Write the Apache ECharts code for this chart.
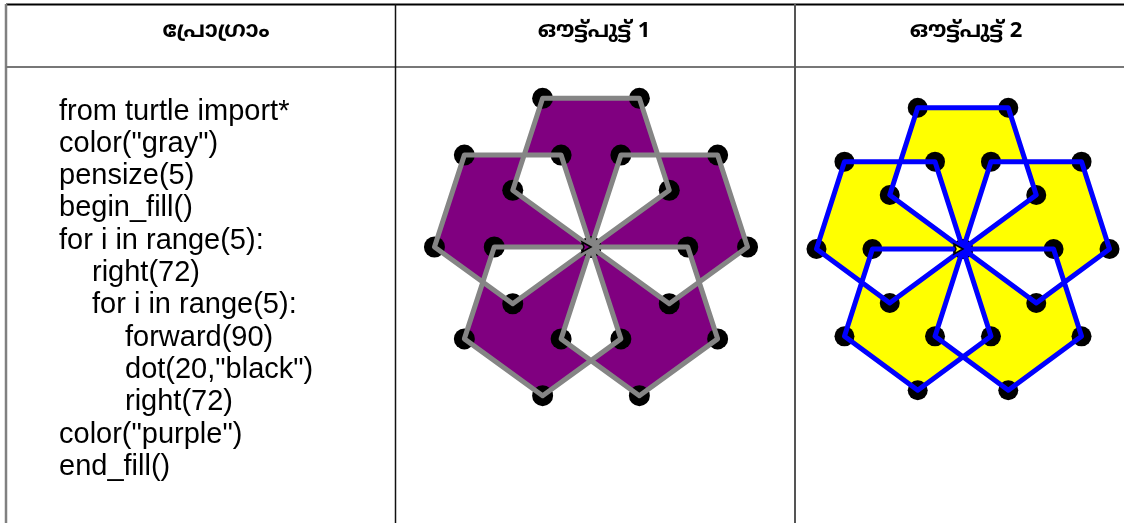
<!DOCTYPE html>
<html>
<head>
<meta charset="utf-8">
<script src="https://cdn.jsdelivr.net/npm/echarts@6/dist/echarts.min.js"></script>
<style>
  html, body { margin: 0; padding: 0; background: #fff; }
  #main { width: 1124px; height: 523px; }
</style>
</head>
<body>
<div id="main"></div>
<script>
// turtle positions after each forward(90), one array per pentagon
var pent1 = [[27.81, -85.6], [-45, -138.5], [-117.81, -85.6], [-90, 0], [0, 0]];
var pent2 = [[-72.81, -52.9], [-145.62, 0], [-117.81, 85.6], [-27.81, 85.6], [0, 0]];
var pent3 = [[-72.81, 52.9], [-45, 138.5], [45, 138.5], [72.81, 52.9], [0, 0]];
var pent4 = [[27.81, 85.6], [117.81, 85.6], [145.62, 0], [72.81, -52.9], [0, 0]];
var pent5 = [[90, 0], [117.81, -85.6], [45, -138.5], [-27.81, -85.6], [0, 0]];
var pentagons = [pent1, pent2, pent3, pent4, pent5];

var headers = ['പ്രോഗ്രാം', 'ഔട്ട്പുട്ട് 1', 'ഔട്ട്പുട്ട് 2'];
var codeLines = [
    [0, 'from turtle import*'],
    [0, 'color("gray")'],
    [0, 'pensize(5)'],
    [0, 'begin_fill()'],
    [0, 'for i in range(5):'],
    [1, 'right(72)'],
    [1, 'for i in range(5):'],
    [2, 'forward(90)'],
    [2, 'dot(20,"black")'],
    [2, 'right(72)'],
    [0, 'color("purple")'],
    [0, 'end_fill()']
];

// path starts at the origin and runs through every pentagon
var pathPoints = [[0, 0]];
pentagons.forEach(function (p) { pathPoints = pathPoints.concat(p); });
var dotPoints = [];
pentagons.forEach(function (p) { dotPoints = dotPoints.concat(p); });

// polygon fill is even-odd: overlap of neighbouring pentagons stays white
function clipPoly(subject, clip) {
    var area = 0;
    for (var k = 0; k < clip.length; k++) {
        var c1 = clip[k], c2 = clip[(k + 1) % clip.length];
        area += c1[0] * c2[1] - c2[0] * c1[1];
    }
    var sgn = area > 0 ? 1 : -1;
    var out = subject;
    for (var i = 0; i < clip.length; i++) {
        var a = clip[i], b = clip[(i + 1) % clip.length];
        var input = out;
        out = [];
        var side = function (p) {
            return sgn * ((b[0] - a[0]) * (p[1] - a[1]) - (b[1] - a[1]) * (p[0] - a[0]));
        };
        for (var j = 0; j < input.length; j++) {
            var p = input[j], q = input[(j + 1) % input.length];
            var sp = side(p), sq = side(q);
            if (sp >= -1e-9) out.push(p);
            if ((sp > 1e-9 && sq < -1e-9) || (sp < -1e-9 && sq > 1e-9)) {
                var t = sp / (sp - sq);
                out.push([p[0] + t * (q[0] - p[0]), p[1] + t * (q[1] - p[1])]);
            }
        }
    }
    return out;
}
var overlaps = [];
for (var n = 0; n < pentagons.length; n++) {
    overlaps.push(clipPoly(pentagons[n], pentagons[(n + 1) % pentagons.length]));
}

var chart = echarts.init(document.getElementById('main'));

function polySeries(idx, polys, color, z) {
    return {
        type: 'custom',
        xAxisIndex: idx,
        yAxisIndex: idx,
        z: z,
        silent: true,
        clip: false,
        data: polys.map(function (p, i) { return [i, 0]; }),
        renderItem: function (params, api) {
            var pts = polys[params.dataIndex].map(function (pt) { return api.coord(pt); });
            return { type: 'polygon', shape: { points: pts }, style: { fill: color } };
        }
    };
}

function cursorSeries(idx, fill, z) {
    return {
        type: 'custom',
        xAxisIndex: idx,
        yAxisIndex: idx,
        z: z,
        silent: true,
        clip: false,
        data: [[0, 0]],
        renderItem: function (params, api) {
            var c = api.coord([0, 0]);
            return {
                type: 'polygon',
                shape: { points: [[c[0], c[1]], [c[0] - 9, c[1] - 5], [c[0] - 7, c[1]], [c[0] - 9, c[1] + 5]] },
                style: { fill: fill, stroke: '#000', lineWidth: 1.5 }
            };
        }
    };
}

function panel(idx, fill, pen, dotSize) {
    return [
        polySeries(idx, pentagons, fill, 1),
        polySeries(idx, overlaps, '#ffffff', 2),
        {
            type: 'scatter',
            xAxisIndex: idx,
            yAxisIndex: idx,
            z: 3,
            clip: false,
            symbolSize: dotSize,
            itemStyle: { color: '#000', opacity: 1 },
            data: dotPoints
        },
        {
            type: 'line',
            xAxisIndex: idx,
            yAxisIndex: idx,
            z: 4,
            clip: false,
            showSymbol: false,
            lineStyle: { color: pen, width: 5, join: 'round' },
            data: pathPoints
        },
        cursorSeries(idx, fill, 5)
    ];
}

var graphics = [
    { type: 'line', shape: { x1: 6, y1: 4.5, x2: 1124, y2: 4.5 }, style: { stroke: '#000', lineWidth: 2 } },
    { type: 'line', shape: { x1: 6, y1: 4, x2: 6, y2: 523 }, style: { stroke: '#808080', lineWidth: 2.5 } },
    { type: 'line', shape: { x1: 6, y1: 67, x2: 1124, y2: 67 }, style: { stroke: '#777', lineWidth: 2 } },
    { type: 'line', shape: { x1: 395.5, y1: 4, x2: 395.5, y2: 523 }, style: { stroke: '#111', lineWidth: 1.5 } },
    { type: 'line', shape: { x1: 795, y1: 4, x2: 795, y2: 523 }, style: { stroke: '#555', lineWidth: 2 } }
];
var headerX = [216, 594, 966];
headers.forEach(function (h, i) {
    graphics.push({
        type: 'text',
        style: {
            text: h, x: headerX[i], y: 33,
            font: 'bold 22px "Noto Sans Malayalam", "Liberation Sans", sans-serif',
            fill: '#000', textAlign: 'center', textVerticalAlign: 'middle'
        }
    });
});
codeLines.forEach(function (line, i) {
    graphics.push({
        type: 'text',
        style: {
            text: line[1], x: 59 + line[0] * 33, y: 126 + i * 32.3,
            font: '29px "Liberation Sans", Arial, sans-serif',
            fill: '#000', textVerticalAlign: 'bottom'
        }
    });
});

var option = {
    animation: false,
    grid: [
        { left: 419, top: 86, width: 344, height: 322, show: false },
        { left: 802, top: 96, width: 326, height: 306, show: false }
    ],
    xAxis: [
        { type: 'value', gridIndex: 0, min: -160, max: 160, show: false },
        { type: 'value', gridIndex: 1, min: -160, max: 160, show: false }
    ],
    yAxis: [
        { type: 'value', gridIndex: 0, min: -150, max: 150, show: false },
        { type: 'value', gridIndex: 1, min: -150, max: 150, show: false }
    ],
    graphic: graphics,
    series: panel(0, '#800080', '#858585', 21).concat(panel(1, '#ffff00', '#0000ff', 20))
};
chart.setOption(option);
</script>
</body>
</html>
